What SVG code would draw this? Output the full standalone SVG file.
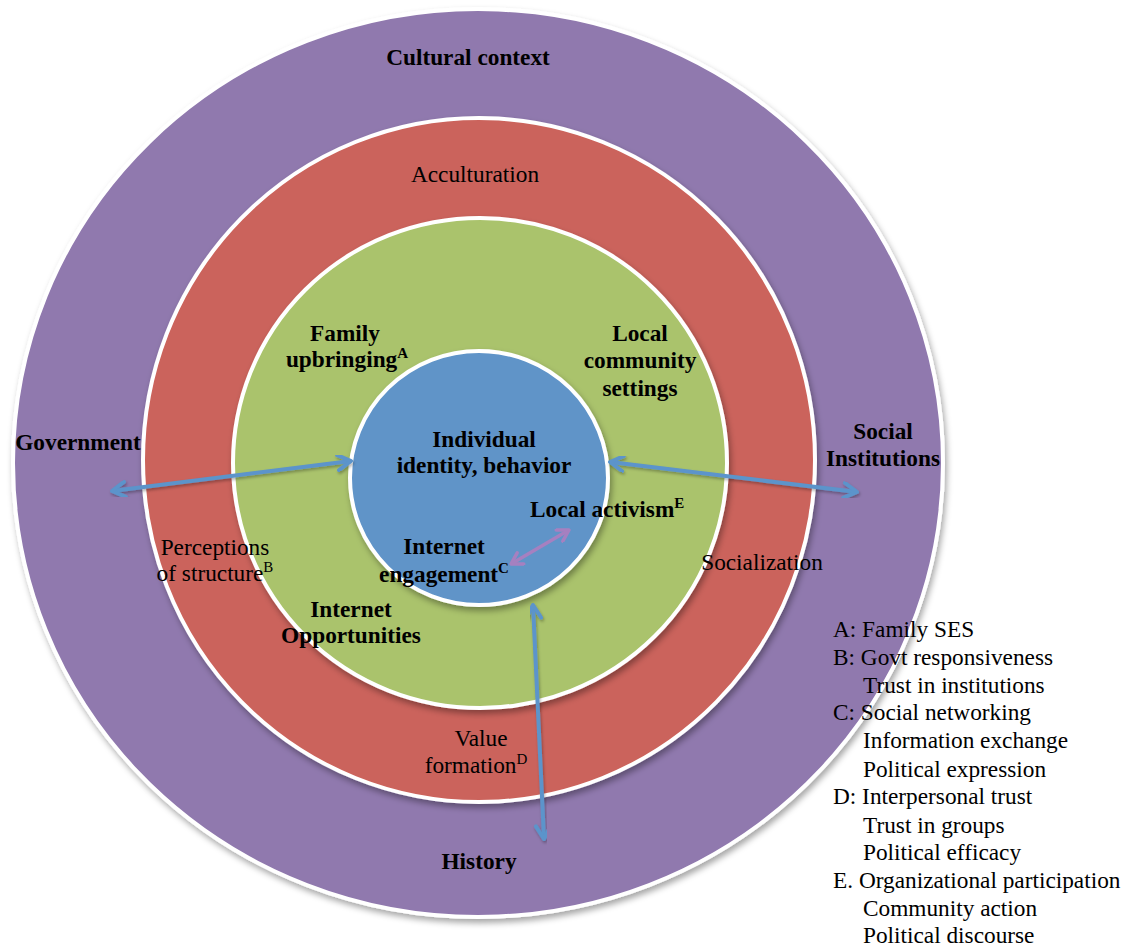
<svg xmlns="http://www.w3.org/2000/svg" width="1129" height="947" viewBox="0 0 1129 947">
<style>
.ring{stroke:#fff;stroke-width:4;filter:url(#sh)}
.b{font-family:"Liberation Serif","Times New Roman",serif;font-weight:bold;font-size:23.3px;fill:#000;text-anchor:middle}
.r{font-family:"Liberation Serif","Times New Roman",serif;font-size:23.3px;fill:#000;text-anchor:middle}
.lg{font-family:"Liberation Serif","Times New Roman",serif;font-size:23.3px;fill:#000}
.sup{font-size:15px}
.ar{fill:none;stroke:#5b94cb;stroke-width:4;marker-start:url(#ah);marker-end:url(#ah);filter:url(#sh2)}
.ap{fill:none;stroke:#a680c0;stroke-width:3.5;marker-start:url(#ahp);marker-end:url(#ahp)}
</style>
<defs>
<filter id="sh" x="-10%" y="-10%" width="120%" height="120%">
<feDropShadow dx="2" dy="4" stdDeviation="3" flood-color="#000" flood-opacity="0.35"/>
</filter>
<filter id="sh2" x="-20%" y="-20%" width="140%" height="140%">
<feDropShadow dx="1" dy="2" stdDeviation="1.5" flood-color="#000" flood-opacity="0.3"/>
</filter>
<marker id="ah" viewBox="0 0 18 18" markerWidth="18" markerHeight="18" refX="16" refY="9" orient="auto-start-reverse" markerUnits="userSpaceOnUse">
<path d="M3,1.5 L16,9 L3,16.5" fill="none" stroke="#5b94cb" stroke-width="4" stroke-linecap="round" stroke-linejoin="round"/>
</marker>
<marker id="ahp" viewBox="0 0 16 16" markerWidth="16" markerHeight="16" refX="14" refY="8" orient="auto-start-reverse" markerUnits="userSpaceOnUse">
<path d="M3,1.5 L14,8 L3,14.5" fill="none" stroke="#a680c0" stroke-width="3.5" stroke-linecap="round" stroke-linejoin="round"/>
</marker>
</defs>
<rect width="1129" height="947" fill="#fff"/>
<g id="outer">
<ellipse class="ring" cx="478" cy="463" rx="465" ry="454" fill="#9079ae"/>
</g>
<g id="middle">
<ellipse class="ring" cx="479" cy="460" rx="336" ry="342" fill="#cb645c"/>
</g>
<g id="inner">
<ellipse class="ring" cx="480" cy="463" rx="247" ry="245" fill="#aac36c"/>
</g>
<g id="core">
<ellipse class="ring" cx="479" cy="478" rx="129" ry="127" fill="#6094c8"/>
</g>
<g id="connectors">
<line class="ar" x1="467" y1="81" x2="467" y2="337"/>
<line class="ar" x1="112" y1="491" x2="351" y2="461"/>
<line class="ar" x1="610" y1="462" x2="857" y2="492"/>
<line class="ar" x1="533" y1="605" x2="544" y2="839"/>
<line class="ap" x1="511" y1="564" x2="569" y2="530"/>
</g>
<g id="cultural-context"><text class="b" x="468" y="65">Cultural context</text></g>
<g id="government"><text class="b" x="78" y="450">Government</text></g>
<g id="social-institutions"><text class="b" x="883" y="439">Social</text><text class="b" x="883" y="466">Institutions</text></g>
<g id="history"><text class="b" x="479" y="869">History</text></g>
<g id="acculturation"><text class="r" x="475" y="182">Acculturation</text></g>
<g id="perceptions"><text class="r" x="215" y="555">Perceptions</text><text class="r" x="215" y="581">of structure<tspan class="sup" dy="-9">B</tspan></text></g>
<g id="socialization"><text class="r" x="762" y="570">Socialization</text></g>
<g id="value-formation"><text class="r" x="481" y="746">Value</text><text class="r" x="476" y="773">formation<tspan class="sup" dy="-9">D</tspan></text></g>
<g id="family-upbringing"><text class="b" x="345" y="341">Family</text><text class="b" x="347" y="367">upbringing<tspan class="sup" dy="-9">A</tspan></text></g>
<g id="local-community"><text class="b" x="640" y="341">Local</text><text class="b" x="640" y="368">community</text><text class="b" x="640" y="396">settings</text></g>
<g id="internet-opportunities"><text class="b" x="351" y="617">Internet</text><text class="b" x="351" y="643">Opportunities</text></g>
<g id="individual"><text class="b" x="484" y="447">Individual</text><text class="b" x="484" y="473">identity, behavior</text></g>
<g id="local-activism"><text class="b" x="530" y="517" style="text-anchor:start">Local activism<tspan class="sup" dy="-9">E</tspan></text></g>
<g id="internet-engagement"><text class="b" x="444" y="554">Internet</text><text class="b" x="444" y="582">engagement<tspan class="sup" dy="-9">C</tspan></text></g>
<g id="legend">
<text class="lg" x="833" y="637">A: Family SES</text>
<text class="lg" x="833" y="665">B: Govt responsiveness</text>
<text class="lg" x="863" y="693">Trust in institutions</text>
<text class="lg" x="833" y="720">C: Social networking</text>
<text class="lg" x="863" y="748">Information exchange</text>
<text class="lg" x="863" y="777">Political expression</text>
<text class="lg" x="833" y="804">D: Interpersonal trust</text>
<text class="lg" x="863" y="833">Trust in groups</text>
<text class="lg" x="863" y="860">Political efficacy</text>
<text class="lg" x="833" y="888">E. Organizational participation</text>
<text class="lg" x="863" y="916">Community action</text>
<text class="lg" x="863" y="943">Political discourse</text>
</g>
</svg>
